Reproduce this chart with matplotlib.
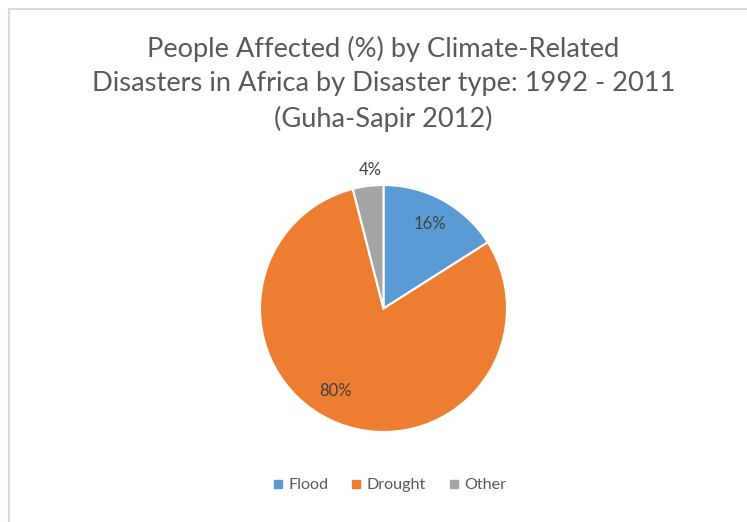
import matplotlib
matplotlib.use('Agg')
import matplotlib.pyplot as plt
from matplotlib.lines import Line2D
from matplotlib.patches import Rectangle

plt.rcParams['font.family'] = ['Lato', 'DejaVu Sans']

# 데이터
categories = ['Flood', 'Drought', 'Other']
shares = [16, 80, 4]
colors = ['#5B9BD5', '#ED7D31', '#A5A5A5']

title = ('People Affected (%) by Climate-Related\n'
         'Disasters in Africa by Disaster type: 1992 - 2011\n'
         '(Guha-Sapir 2012)')

W, H = 747, 522
fig = plt.figure(figsize=(W / 100, H / 100), dpi=100)

# 바깥 테두리 (오른쪽/아래는 잘려 있음)
fig.patches.append(Rectangle((8.5 / W, -0.2), 1.5, 1.2 - 8.5 / H,
                             transform=fig.transFigure, fill=False,
                             edgecolor='#D9D9D9', linewidth=1.5))

# 파이 축 위치
cx, cy, r = 383.5, 308.5, 123.5
ax = fig.add_axes([(cx - r) / W, (H - cy - r) / H, 2 * r / W, 2 * r / H])

wedges, texts, autotexts = ax.pie(
    shares, colors=colors, startangle=90, counterclock=False,
    autopct='%1.0f%%', pctdistance=0.78,
    wedgeprops=dict(edgecolor='white', linewidth=1.5),
    textprops=dict(color='#404040', fontsize=12))
ax.set_xlim(-1, 1)
ax.set_ylim(-1, 1)
ax.set_aspect('equal')

# 라벨 위치 보정
autotexts[1].set_position((-0.385, -0.668))
autotexts[2].set_position((-0.11, 1.12))

fig.text(383.5 / W, 1 - 84 / H, title, ha='center', va='center',
         fontsize=19.6, color='#595959', linespacing=1.45)

handles = [Line2D([], [], marker='s', linestyle='none', markersize=5.5,
                  markerfacecolor=c, markeredgecolor=c) for c in colors]
fig.legend(handles, categories, loc='center', bbox_to_anchor=(389 / W, 37 / H),
           ncol=3, frameon=False, fontsize=11.6, labelcolor='#595959',
           handletextpad=0.25, columnspacing=1.3, handlelength=0.8)

fig.savefig('out.png', dpi=100)
